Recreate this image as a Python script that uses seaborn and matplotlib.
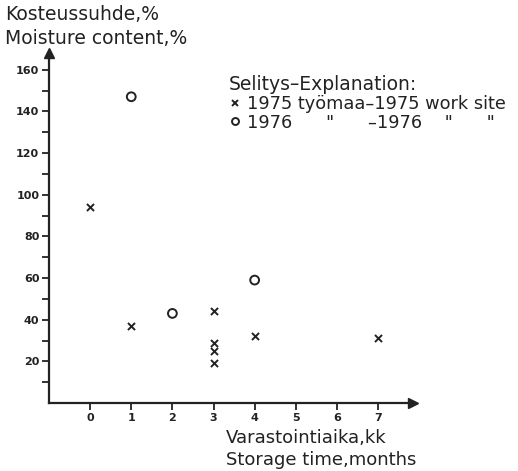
import matplotlib
matplotlib.use("Agg")
import matplotlib.pyplot as plt
from matplotlib.lines import Line2D
import seaborn as sns
import pandas as pd

# Data
months_1975 = [0, 1, 3, 3, 3, 3, 4, 7]
moist_1975 = [94, 37, 44, 29, 25, 19, 32, 31]
months_1976 = [1, 2, 4]
moist_1976 = [147, 43, 59]
x_ticks = [0, 1, 2, 3, 4, 5, 6, 7]
y_major = [20, 40, 60, 80, 100, 120, 140, 160]
y_minor = [10, 30, 50, 70, 90, 110, 130, 150]

df75 = pd.DataFrame({"month": months_1975, "moisture": moist_1975})
df76 = pd.DataFrame({"month": months_1976, "moisture": moist_1976})

sns.set_style("white")
plt.rcParams["font.family"] = ["DejaVu Sans"]

W, H = 518, 471
fig = plt.figure(figsize=(W / 100, H / 100), dpi=100)
x0, y0 = 49, 403
x1, y1 = 413, 53
ax = fig.add_axes([x0 / W, 1 - y0 / H, (x1 - x0) / W, (y0 - y1) / H])
ax.set_xlim(-1, 7.85)
ax.set_ylim(0, 168)

sns.scatterplot(data=df75, x="month", y="moisture", marker="x", color="#222222",
                s=26, linewidth=1.4, ax=ax, zorder=3)
sns.scatterplot(data=df76, x="month", y="moisture", marker="o", s=40,
                facecolor="none", edgecolor="#222222", linewidth=1.4, ax=ax, zorder=3)

for s in ["top", "right"]:
    ax.spines[s].set_visible(False)
for s in ["left", "bottom"]:
    ax.spines[s].set_color("#222222")
    ax.spines[s].set_linewidth(1.6)

# arrow heads
ax.plot(1, 0, ">", color="#222222", markersize=7, transform=ax.transAxes, clip_on=False)
ax.plot(0, 1, "^", color="#222222", markersize=7, transform=ax.transAxes, clip_on=False)

ax.set_xticks(x_ticks)
ax.set_xticklabels([str(v) for v in x_ticks], fontsize=8, fontweight="bold", color="#222222")
ax.set_yticks(y_major)
ax.set_yticklabels([str(v) for v in y_major], fontsize=8, fontweight="bold", color="#222222")
ax.set_yticks(y_minor, minor=True)
ax.tick_params(axis="both", which="both", direction="out", length=5, width=1.3,
               color="#222222", pad=2, left=True, bottom=True)
ax.set_xlabel("")
ax.set_ylabel("")

fs = 13.5
fig.text(5 / W, 1 - 15 / H, "Kosteussuhde,%", fontsize=fs, va="center", ha="left", color="#222222")
fig.text(5 / W, 1 - 38 / H, "Moisture content,%", fontsize=fs, va="center", ha="left", color="#222222")
fig.text(226 / W, 1 - 438 / H, "Varastointiaika,kk", fontsize=13, va="center", ha="left", color="#222222")
fig.text(226 / W, 1 - 460 / H, "Storage time,months", fontsize=13, va="center", ha="left", color="#222222")

handles = [
    Line2D([], [], marker="x", linestyle="none", color="#222222", markersize=5, markeredgewidth=1.4),
    Line2D([], [], marker="o", linestyle="none", markerfacecolor="none",
           markeredgecolor="#222222", markersize=5, markeredgewidth=1.4),
]
labels = ["1975 työmaa–1975 work site", "1976      \"      –1976    \"      \""]
leg = ax.legend(handles, labels, title="Selitys–Explanation:", loc="upper left",
                bbox_to_anchor=(220 / W, 1 - 66 / H), bbox_transform=fig.transFigure,
                frameon=False, fontsize=12.8, title_fontsize=13.5, handletextpad=0.3,
                handlelength=0.7, borderpad=0, labelspacing=0.05, alignment="left")
for t in leg.get_texts():
    t.set_color("#222222")
leg.get_title().set_color("#222222")

fig.savefig("out.png", dpi=100)
